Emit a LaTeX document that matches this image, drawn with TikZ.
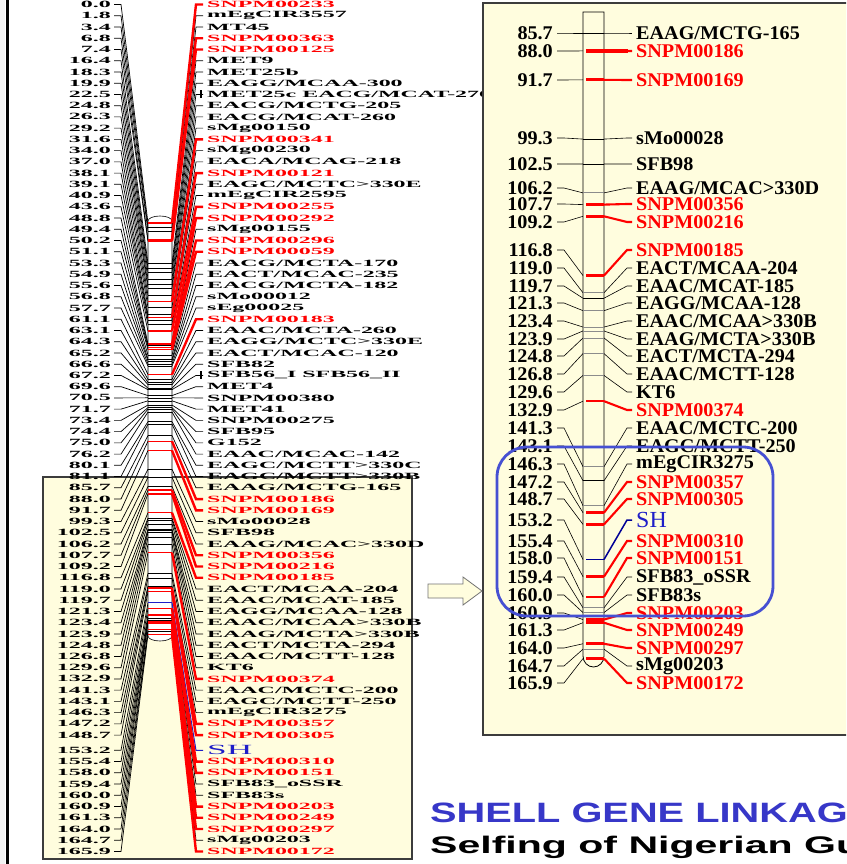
\documentclass[tikz,border=0pt]{standalone}
\usepackage{fontspec}
\usepackage{graphicx}
\setmainfont{Liberation Serif}
\newfontfamily\sansf{Liberation Sans}
\definecolor{cr}{RGB}{255,0,0}
\definecolor{ck}{RGB}{0,0,0}
\definecolor{cb}{RGB}{30,30,200}
\definecolor{cbd}{RGB}{0,0,150}
\definecolor{panel}{RGB}{255,253,222}
\definecolor{frame}{RGB}{60,60,60}
\definecolor{ovalblue}{RGB}{70,80,210}
\definecolor{titleblue}{RGB}{55,55,200}
\newcommand{\lmap}[1]{\scalebox{2.52}[1]{\fontsize{9.5}{9.5}\selectfont\bfseries #1}}
\newcommand{\rmap}[1]{\scalebox{1.04}[1]{\fontsize{19.4}{19.4}\selectfont\bfseries #1}}
\newcommand{\shl}{{\fontsize{14}{14}\selectfont\mdseries SH}}
\newcommand{\shr}{{\fontsize{23}{23}\selectfont\mdseries SH}}
\def\leftdata{0/0.0/SNPM00233/r, 1/1.8/mEgCIR3557/k, 2/3.4/MT45/k, 3/6.8/SNPM00363/r, 4/7.4/SNPM00125/r,
5/16.4/MET9/k, 6/18.3/MET25b/k, 7/19.9/{EAGG/MCAA-300}/k, 8/22.5/{MET25c EACG/MCAT-270}/k,
9/24.8/{EACG/MCTG-205}/k, 10/26.3/{EACG/MCAT-260}/k, 11/29.2/sMg00150/k, 12/31.6/SNPM00341/r,
13/34.0/sMg00230/k, 14/37.0/{EACA/MCAG-218}/k, 15/38.1/SNPM00121/r, 16/39.1/{EAGC/MCTC>330E}/k,
17/40.9/mEgCIR2595/k, 18/43.6/SNPM00255/r, 19/48.8/SNPM00292/r, 20/49.4/sMg00155/k,
21/50.2/SNPM00296/r, 22/51.1/SNPM00059/r, 23/53.3/{EACG/MCTA-170}/k, 24/54.9/{EACT/MCAC-235}/k,
25/55.6/{EACG/MCTA-182}/k, 26/56.8/sMo00012/k, 27/57.7/sEg00025/k, 28/61.1/SNPM00183/r,
29/63.1/{EAAC/MCTA-260}/k, 30/64.3/{EAGG/MCTC>330E}/k, 31/65.2/{EACT/MCAC-120}/k, 32/66.6/SFB82/k,
33/67.2/{SFB56\_I SFB56\_II}/k, 34/69.6/MET4/k, 35/70.5/SNPM00380/k, 36/71.7/MET41/k,
37/73.4/SNPM00275/k, 38/74.4/SFB95/k, 39/75.0/G152/k, 40/76.2/{EAAC/MCAC-142}/k,
41/80.1/{EAGC/MCTT>330C}/k, 42/81.1/{EAGC/MCTT>330B}/k, 43/85.7/{EAAG/MCTG-165}/k,
44/88.0/SNPM00186/r, 45/91.7/SNPM00169/r, 46/99.3/sMo00028/k, 47/102.5/SFB98/k,
48/106.2/{EAAG/MCAC>330D}/k, 49/107.7/SNPM00356/r, 50/109.2/SNPM00216/r, 51/116.8/SNPM00185/r,
52/119.0/{EACT/MCAA-204}/k, 53/119.7/{EAAC/MCAT-185}/k, 54/121.3/{EAGG/MCAA-128}/k,
55/123.4/{EAAC/MCAA>330B}/k, 56/123.9/{EAAG/MCTA>330B}/k, 57/124.8/{EACT/MCTA-294}/k,
58/126.8/{EAAC/MCTT-128}/k, 59/129.6/KT6/k, 60/132.9/SNPM00374/r, 61/141.3/{EAAC/MCTC-200}/k,
62/143.1/{EAGC/MCTT-250}/k, 63/146.3/mEgCIR3275/k, 64/147.2/SNPM00357/r, 65/148.7/SNPM00305/r,
66/153.2/{\shl}/b, 67/155.4/SNPM00310/r, 68/158.0/SNPM00151/r, 69/159.4/{SFB83\_oSSR}/k,
70/160.0/SFB83s/k, 71/160.9/SNPM00203/r, 72/161.3/SNPM00249/r, 73/164.0/SNPM00297/r,
74/164.7/sMg00203/k, 75/165.9/SNPM00172/r}
\def\rightdata{85.7/33/k/{EAAG/MCTG-165}/black, 88.0/51/r/SNPM00186/cr, 91.7/80/r/SNPM00169/cr,
99.3/138/k/sMo00028/black, 102.5/164/k/SFB98/black, 106.2/188/k/{EAAG/MCAC>330D}/black!45,
107.7/204/r/SNPM00356/cr, 109.2/222/r/SNPM00216/cr, 116.8/250/r/SNPM00185/cr,
119.0/268/k/{EACT/MCAA-204}/black!45, 119.7/286/k/{EAAC/MCAT-185}/black,
121.3/303/k/{EAGG/MCAA-128}/black!45, 123.4/321/k/{EAAC/MCAA>330B}/black!45,
123.9/339/k/{EAAG/MCTA>330B}/black!45, 124.8/356/k/{EACT/MCTA-294}/black!45,
126.8/374/k/{EAAC/MCTT-128}/black!45, 129.6/392/k/KT6/black!45, 132.9/410/r/SNPM00374/cr,
141.3/428/k/{EAAC/MCTC-200}/black!45, 143.1/446/k/{EAGC/MCTT-250}/black,
146.3/464/k/mEgCIR3275/black!45, 147.2/482/r/SNPM00357/cr, 148.7/499/r/SNPM00305/cr,
153.2/520/b/{\shr}/cbd, 155.4/541/r/SNPM00310/cr, 158.0/558/r/SNPM00151/cr,
159.4/577/k/{SFB83\_oSSR}/black!45, 160.0/595/k/SFB83s/black!45, 160.9/613/r/SNPM00203/cr,
161.3/630/r/SNPM00249/cr, 164.0/648/r/SNPM00297/cr, 164.7/666/k/sMg00203/black!45,
165.9/683/r/SNPM00172/cr}
\begin{document}
\begin{tikzpicture}[x=1pt,y=-1pt,
  lab/.style={inner sep=0pt},
  tick/.style={black, line width=0.7pt},
  rtick/.style={black, line width=0.6pt},
  fank/.style={black, line width=0.7pt},
  fanr/.style={cr, line width=2.4pt},
  fanb/.style={cb, line width=1pt},
  mink/.style={black, line width=0.6pt},
  minr/.style={cr, line width=1.4pt},
  minb/.style={cb, line width=1.1pt},
  rfank/.style={black, line width=0.6pt},
  rfanr/.style={cr, line width=2.1pt},
  rfanb/.style={cbd, line width=1.5pt},
  rink/.style={line width=0.9pt},
  rinr/.style={line width=2.6pt, shorten <=3pt},
  rinb/.style={line width=1.6pt, shorten <=3pt},
  boxframe/.style={draw=frame, fill=panel, line width=1.1pt}]
\useasboundingbox (0,0) rectangle (846,864);
\clip (0,0) rectangle (846,864);
\fill[white] (0,0) rectangle (846,864);
\fill[black!5] (0,0) rectangle (5,864);
\draw[line width=3.3pt] (7.3,0) -- (7.3,864);
% highlighted lower part of the full map
\draw[boxframe] (43,477) rectangle (412,859);
% ---------- full linkage map ----------
\foreach \i/\c/\lab/\col in \leftdata {
  \pgfmathsetmacro\ly{4.5+11.24*\i+(\i>65)*4}
  \pgfmathsetmacro\by{223+2.48*\c}
  \draw[tick] (114,\ly) -- (121,\ly) -- (148,\by);
}
\draw[fill=white, line width=0.6pt] (148,221) -- (148,636)
  arc[start angle=180, end angle=0, x radius=12, y radius=5] -- (172,221)
  arc[start angle=0, end angle=-180, x radius=12, y radius=5] -- cycle;
\begin{scope}[fanr/.style={draw=none}, fanb/.style={draw=none}]
\foreach \i/\c/\lab/\col in \leftdata {
  \pgfmathsetmacro\ly{4.5+11.24*\i+(\i>65)*4}
  \pgfmathsetmacro\by{223+2.48*\c}
  \draw[min\col] (148,\by) -- (172,\by);
  \draw[fan\col] (172,\by) -- (196,\ly) -- (203,\ly);
}
\end{scope}
\begin{scope}[fank/.style={draw=none}]
\foreach \i/\c/\lab/\col in \leftdata {
  \pgfmathsetmacro\ly{4.5+11.24*\i+(\i>65)*4}
  \pgfmathsetmacro\by{223+2.48*\c}
  \draw[fan\col] (172,\by) -- (196,\ly) -- (203,\ly);
}
\end{scope}
\foreach \i/\c/\lab/\col in \leftdata {
  \pgfmathsetmacro\ly{4.5+11.24*\i+(\i>65)*4}
  \node[lab, anchor=east] (d\i) at (111,\ly) {\lmap{\c}};
  \node[lab, anchor=west, text=c\col] (m\i) at (207,\ly) {\lmap{\lab}};
}
\draw[line width=1.6pt] (201,90.4) -- (201,98.4);
\draw[line width=1.6pt] (201,371.4) -- (201,379.4);
% ---------- enlarged panel ----------
\draw[boxframe] (483,3) rectangle (900,735);
\draw[fill=panel, line width=0.8pt] (583,12) -- (583,656)
  arc[start angle=180, end angle=0, x radius=10.5, y radius=11] -- (604,12) -- cycle;
\foreach \c/\ly/\col/\lab/\inn [count=\n] in \rightdata {
  \pgfmathsetmacro\by{33+(\c-85.7)*7.8}
  \draw[rtick] (557,\ly) -- (564,\ly) -- (583,\by);
  \draw[rin\col, \inn] (583,\by) -- (604,\by);
  \draw[rfan\col] (604,\by) -- (627,\ly) -- (632,\ly);
  \node[lab, anchor=east] (rd\n) at (553,\ly) {\rmap{\c}};
  \node[lab, anchor=west, text=c\col] (rm\n) at (636,\ly) {\rmap{\lab}};
}
\draw[cr, line width=3.8pt] (586,51) -- (628,51);
\draw[ovalblue, line width=2.8pt, rounded corners=30pt] (497,447) rectangle (773,616);
% arrow between the two maps
\draw[fill=panel, draw=black!55, line width=0.8pt] (428,584) -- (463,584) -- (463,577)
  -- (482,591) -- (463,605) -- (463,598) -- (428,598) -- cycle;
% titles
\node[anchor=base west, inner sep=0pt, text=titleblue, font=\sansf\bfseries\fontsize{28}{28}\selectfont] (title) at (430,822) {\scalebox{1.42}[1]{SHELL GENE LINKAG}};
\node[anchor=base west, inner sep=0pt, text=black, font=\sansf\bfseries\fontsize{24}{24}\selectfont] (subtitle) at (430,853) {\scalebox{1.71}[1]{Selfing of Nigerian Gu}};
\end{tikzpicture}
\end{document}
